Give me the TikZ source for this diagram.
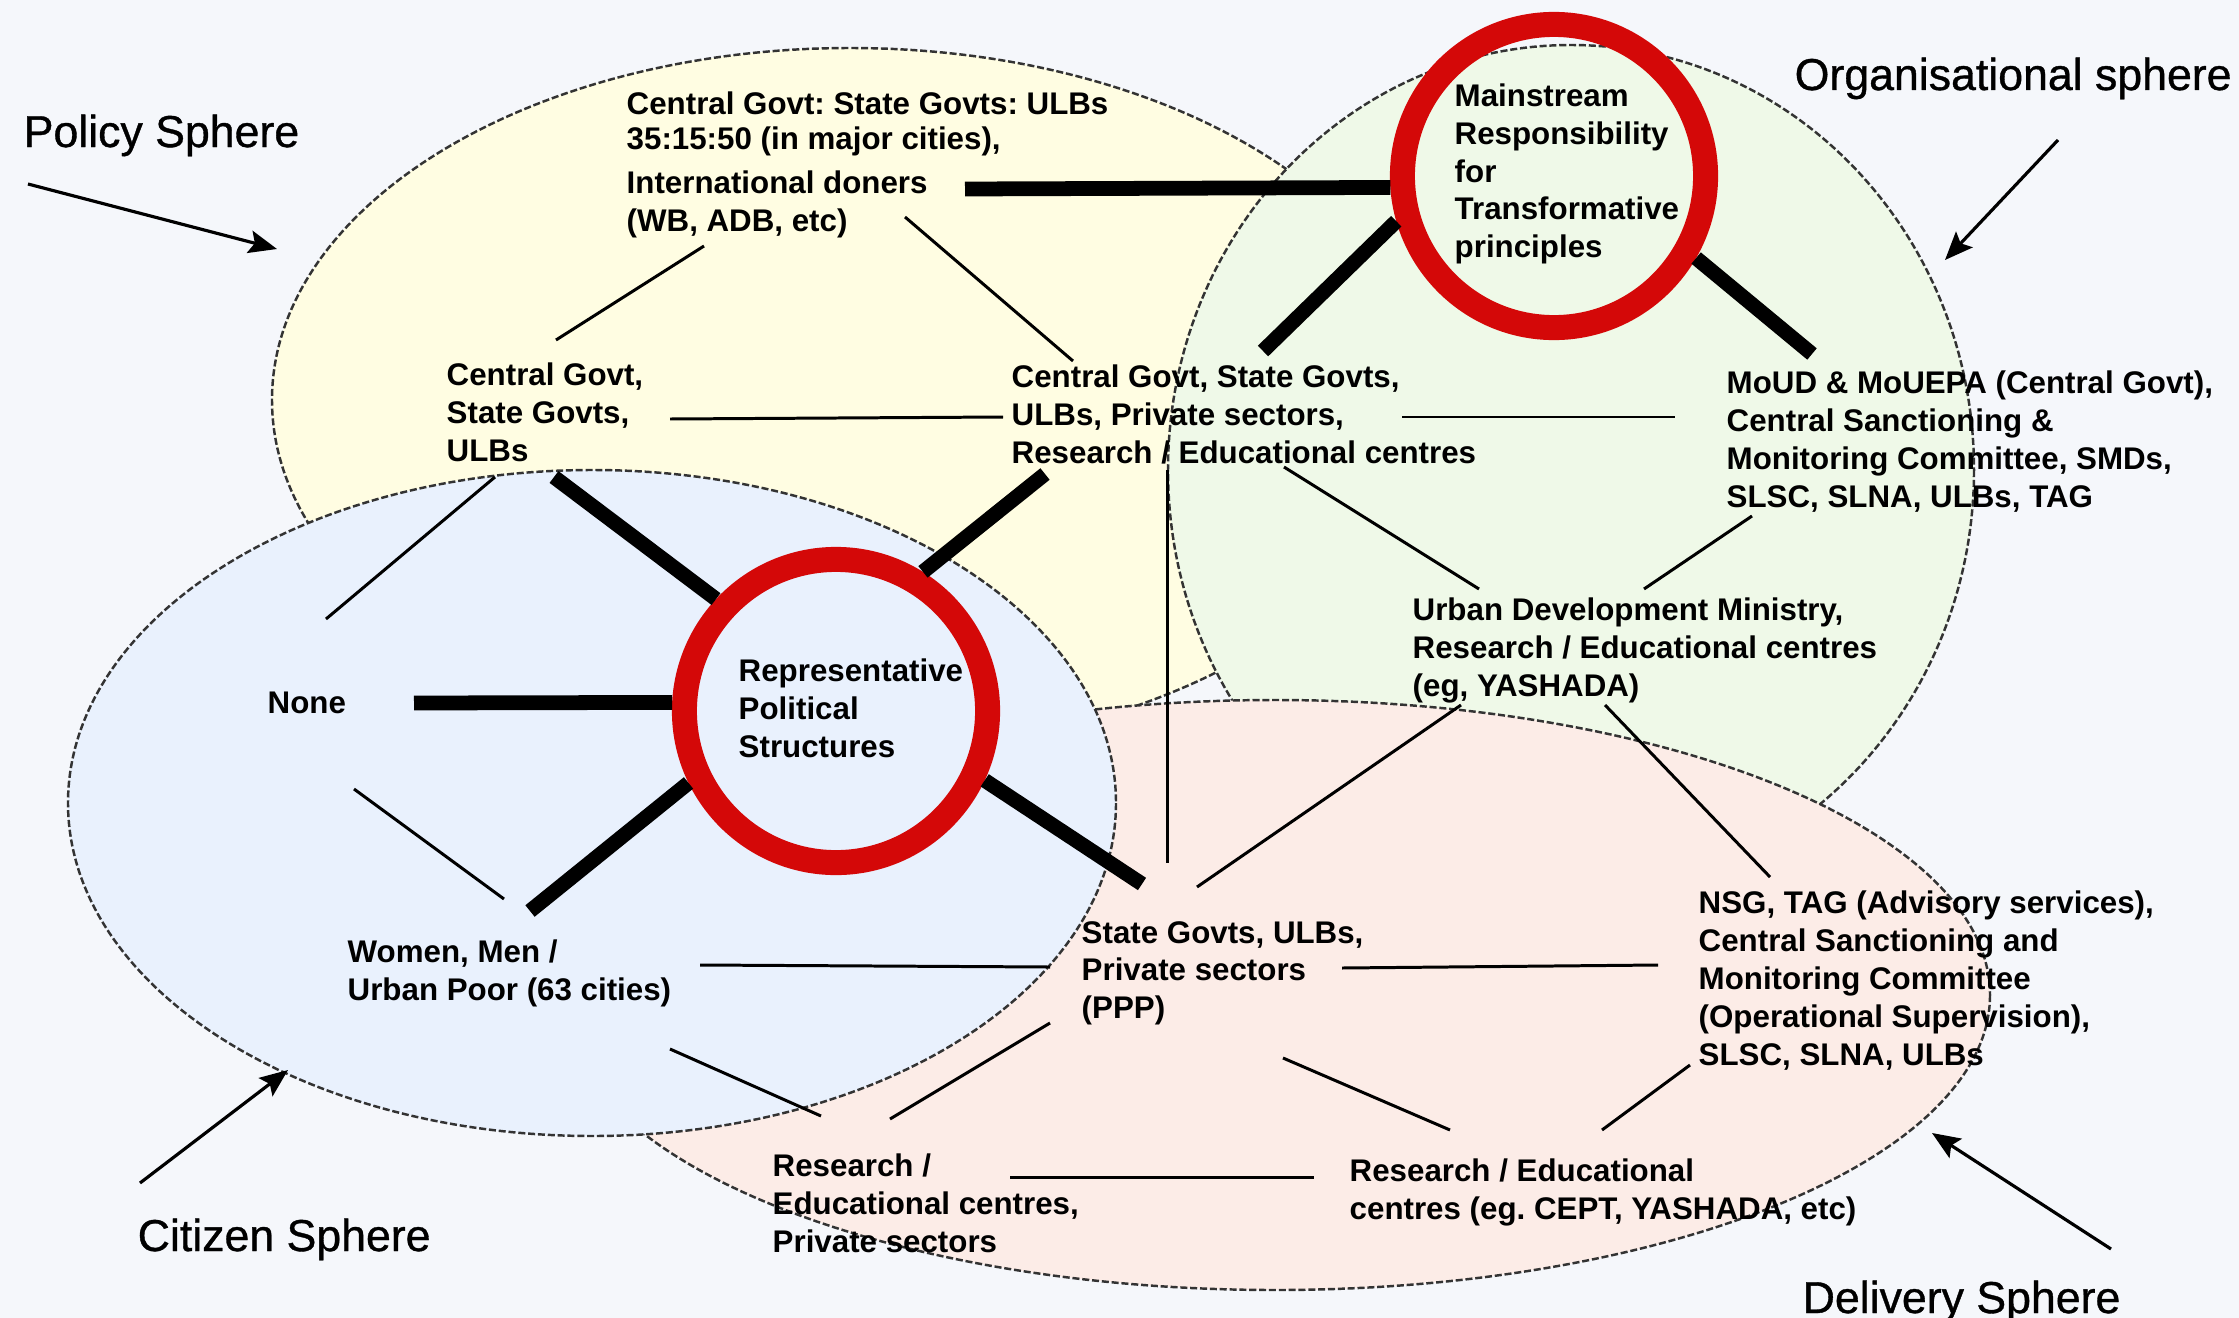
\documentclass[tikz,border=0pt]{standalone}
\usepackage{fontspec}
\setmainfont{Liberation Sans}
\newfontfamily\tagfont{Liberation Sans}[FakeBold=0.8]
\usetikzlibrary{arrows.meta}
\frenchspacing
\definecolor{bgc}{RGB}{245,247,251}
\definecolor{policyfill}{RGB}{255,253,226}
\definecolor{orgfill}{RGB}{239,249,232}
\definecolor{delivfill}{RGB}{252,236,231}
\definecolor{citfill}{RGB}{233,241,253}
\definecolor{ringred}{RGB}{212,8,8}
\begin{document}
\begin{tikzpicture}[x=0.01cm,y=-0.01cm,
  sphere/.style={draw=black!80, line width=0.7pt, dash pattern=on 2pt off 0.8pt},
  % texts are placed by the baseline of their last line
  item/.style={anchor=base west, inner sep=0pt, align=left,
    font=\fontsize{8.9}{10.75}\selectfont\bfseries},
  tag/.style={anchor=base west, inner sep=0pt, font=\fontsize{12.7}{15}\selectfont\tagfont},
  link/.style={line width=0.85pt},
  strong/.style={line width=4.2pt},
  pointer/.style={line width=0.9pt, -{Stealth[length=8pt,width=6.5pt,inset=1.5pt]}},
  ring/.style={circle, draw=ringred, line width=0.25cm, minimum size=3.03cm, inner sep=0pt}
]
% canvas
\fill[bgc] (0,0) rectangle (2239,1318);
\useasboundingbox (0,0) rectangle (2239,1318);

% the four spheres
\path[sphere, fill=policyfill] (850,400) ellipse [x radius=578, y radius=352];
\path[sphere, fill=orgfill] (1571,470) ellipse [x radius=403, y radius=425];
\path[sphere, fill=delivfill] (1275,995) ellipse [x radius=715, y radius=295];
\path[sphere, fill=citfill] (592,803) ellipse [x radius=524, y radius=333];

% the two key principles
\node[ring] (mrt) at (1554,176) {};
\node[ring] (rps) at (836,711) {};

% texts
\node[item] (fund) at (626,231.5) {Central Govt: State Govts: ULBs\\[-0.8pt]35:15:50 (in major cities),\\[1.8pt]International doners\\(WB, ADB, etc)};
\node[item] (cgsu) at (446,461) {Central Govt,\\State Govts,\\ULBs};
\node[item] (cgpr) at (1011,463) {Central Govt, State Govts,\\ULBs, Private sectors,\\Research / Educational centres};
\node[item] (mrttxt) at (1454,257.7) {Mainstream\\Responsibility\\for\\Transformative\\principles};
\node[item] (moud) at (1726,507) {MoUD \& MoUEPA (Central Govt),\\Central Sanctioning \&\\Monitoring Committee, SMDs,\\SLSC, SLNA, ULBs, TAG};
\node[item] (udm) at (1412,696) {Urban Development Ministry,\\Research / Educational centres\\(eg, YASHADA)};
\node[item] (none) at (267,713) {None};
\node[item] (rpstxt) at (738,757) {Representative\\Political\\Structures};
\node[item] (poor) at (347,1000) {Women, Men /\\Urban Poor (63 cities)};
\node[item] (ppp) at (1081,1018.6) {State Govts, ULBs,\\Private sectors\\(PPP)};
\node[item] (nsg) at (1698,1065) {NSG, TAG (Advisory services),\\Central Sanctioning and\\Monitoring Committee\\(Operational Supervision),\\SLSC, SLNA, ULBs};
\node[item] (resp) at (772,1252) {Research /\\Educational centres,\\Private sectors};
\node[item] (cept) at (1349,1219.3) {Research / Educational\\centres (eg. CEPT, YASHADA, etc)};

% sphere labels
\node[tag] (lpol) at (23,147) {Policy Sphere};
\node[tag] (lorg) at (1794,90) {Organisational sphere};
\node[tag] (lcit) at (137,1251) {Citizen Sphere};
\node[tag] (ldel) at (1802,1313) {Delivery Sphere};

% connector ends beside the texts
\coordinate (fund-sw) at (704,246);
\coordinate (fund-se) at (905,217);
\coordinate (fund-e) at (965,189);
\coordinate (cgsu-n) at (556,340);
\coordinate (cgsu-e) at (670,419);
\coordinate (cgsu-sw) at (495,477);
\coordinate (cgsu-se) at (554,477);
\coordinate (cgpr-nw) at (1073,361);
\coordinate (cgpr-w) at (1003,417);
\coordinate (cgpr-e) at (1402,417);
\coordinate (cgpr-ne) at (1263,351);
\coordinate (cgpr-s) at (1167,470);
\coordinate (cgpr-se) at (1284,467);
\coordinate (cgpr-sw) at (1045,474);
\coordinate (moud-w) at (1675,417);
\coordinate (moud-nw) at (1812,354);
\coordinate (moud-sw) at (1752,516);
\coordinate (udm-nw) at (1479,589);
\coordinate (udm-ne) at (1644,589);
\coordinate (udm-sw) at (1461,705);
\coordinate (udm-se) at (1605,705);
\coordinate (none-n) at (326,619);
\coordinate (none-e) at (414,703);
\coordinate (none-s) at (354,789);
\coordinate (poor-n) at (504,899);
\coordinate (poor-ne) at (530,911);
\coordinate (poor-e) at (700,965);
\coordinate (poor-se) at (670,1049);
\coordinate (ppp-n) at (1167,863);
\coordinate (ppp-nw) at (1142,884);
\coordinate (ppp-ne) at (1197,887);
\coordinate (ppp-w) at (1050,967);
\coordinate (ppp-sw) at (1050,1023);
\coordinate (ppp-e) at (1342,968);
\coordinate (ppp-se) at (1283,1058);
\coordinate (nsg-nw) at (1770,877);
\coordinate (nsg-w) at (1658,965);
\coordinate (nsg-sw) at (1690,1065);
\coordinate (resp-nw) at (821,1116);
\coordinate (resp-ne) at (890,1119);
\coordinate (resp-e) at (1010,1177);
\coordinate (cept-w) at (1314,1177);
\coordinate (cept-nw) at (1450,1130);
\coordinate (cept-ne) at (1602,1130);

% thin links
\draw[link] (fund-sw) -- (cgsu-n);
\draw[link] (fund-se) -- (cgpr-nw);
\draw[link] (cgsu-e) -- (cgpr-w);
\draw[link] (cgsu-sw) -- (none-n);
\draw[link] (none-s) -- (poor-n);
\draw[link] (poor-e) -- (ppp-w);
\draw[link] (poor-se) -- (resp-nw);
\draw[link] (ppp-sw) -- (resp-ne);
\draw[link] (cgpr-e) -- (moud-w);
\draw[link] (cgpr-se) -- (udm-nw);
\draw[link] (moud-sw) -- (udm-ne);
\draw[link] (cgpr-s) -- (ppp-n);
\draw[link] (udm-sw) -- (ppp-ne);
\draw[link] (udm-se) -- (nsg-nw);
\draw[link] (ppp-e) -- (nsg-w);
\draw[link] (ppp-se) -- (cept-nw);
\draw[link] (nsg-sw) -- (cept-ne);
\draw[link] (resp-e) -- (cept-w);

% strong links to the key principles
\draw[strong] (cgsu-se) -- (rps.137);
\draw[strong] (cgpr-sw) -- (rps.58);
\draw[strong] (none-e) -- (rps.177);
\draw[strong] (poor-ne) -- (rps.206);
\draw[strong] (rps.335) -- (ppp-nw);
\draw[strong] (fund-e) -- (mrt.184);
\draw[strong] (mrt.196) -- (cgpr-ne);
\draw[strong] (mrt.330) -- (moud-nw);

% label pointers
\coordinate (lpol-tip) at (277,249);
\coordinate (lorg-tip) at (1945,260);
\coordinate (lcit-tip) at (288,1070);
\coordinate (ldel-tip) at (1932,1133);
\coordinate (lpol-tail) at (28,184);
\coordinate (lorg-tail) at (2058,140);
\coordinate (lcit-tail) at (140,1183);
\coordinate (ldel-tail) at (2111,1249);
\draw[pointer] (lpol-tail) -- (lpol-tip);
\draw[pointer] (lorg-tail) -- (lorg-tip);
\draw[pointer] (lcit-tail) -- (lcit-tip);
\draw[pointer] (ldel-tail) -- (ldel-tip);
\end{tikzpicture}
\end{document}
